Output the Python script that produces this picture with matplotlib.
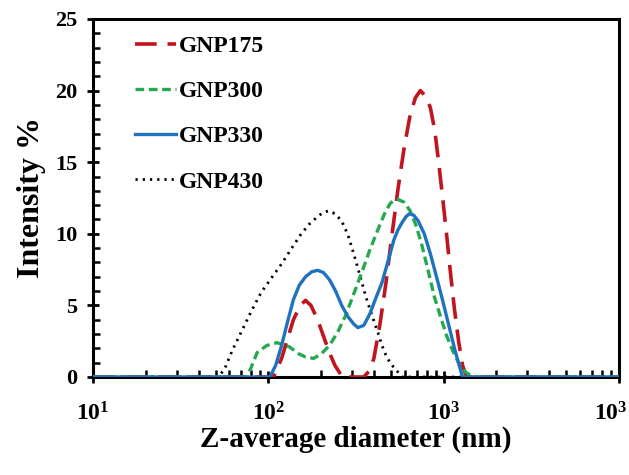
import numpy as np
import matplotlib
matplotlib.use('Agg')
import matplotlib.pyplot as plt
import matplotlib.transforms as mtransforms
from matplotlib.ticker import LogLocator, MultipleLocator, FixedLocator, FixedFormatter, NullFormatter

# ── data (diameter in nm, intensity in %) ──
d175 = [10, 107, 119, 139, 152, 163, 175, 191, 207, 223, 240, 255, 262, 350, 375, 400, 432, 469,
        508, 550, 595, 644, 690, 736, 790, 840, 890, 934, 985, 1038, 1095, 1153, 1220, 1282, 1352, 10000]
i175 = [0, 0, 1.3, 4.0, 5.0, 5.35, 5.0, 4.0, 2.8, 1.7, 0.8, 0.3, 0, 0, 0.4, 1.3, 3.6, 6.6,
        10.0, 13.2, 16.0, 18.3, 19.5, 20.0, 19.6, 18.8, 17.2, 15.1, 12.6, 10.0, 7.2, 4.7, 2.4, 0.8, 0, 0]

d300 = [10, 75.5, 80, 86.3, 98, 112, 132, 150, 163, 181, 200, 223, 248, 276, 307, 341, 380,
        422, 460, 494, 520, 550, 595, 644, 700, 755, 820, 885, 960, 1038, 1120, 1216, 1330, 1465, 10000]
i300 = [0, 0, 0.7, 1.7, 2.2, 2.4, 2.1, 1.6, 1.4, 1.3, 1.6, 2.2, 3.1, 4.3, 5.8, 7.3, 8.9,
        10.3, 11.4, 12.1, 12.35, 12.4, 12.2, 11.6, 10.5, 9.1, 7.3, 5.6, 4.2, 2.9, 1.9, 1.0, 0.35, 0, 0]

d330 = [10, 102, 110, 119, 129, 139, 150, 163, 177, 191, 206, 223, 242, 262, 285, 307, 324,
        350, 379, 410, 445, 482, 521, 550, 580, 610, 638, 675, 716, 775, 840, 910, 984, 1065, 1153, 1220, 1282, 10000]
i330 = [0, 0, 0.8, 2.2, 3.9, 5.4, 6.4, 7.0, 7.35, 7.45, 7.3, 6.8, 6.0, 5.0, 4.2, 3.7, 3.45,
        3.6, 4.4, 5.5, 6.6, 8.1, 9.6, 10.3, 10.8, 11.2, 11.4, 11.3, 10.9, 10.0, 8.6, 7.0, 5.4, 3.7, 2.0, 0.9, 0, 0]

d430 = [10, 52, 56.5, 62, 69.8, 80, 91, 104, 119, 136, 154, 172, 191, 206, 221, 240, 262,
        285, 307, 333, 360, 390, 422, 445, 469, 500, 536, 560, 580, 10000]
i430 = [0, 0, 0.6, 1.8, 3.1, 4.6, 5.9, 6.9, 7.9, 9.0, 10.0, 10.7, 11.2, 11.5, 11.6, 11.4, 10.9,
        9.9, 8.6, 7.1, 5.6, 4.3, 3.1, 2.2, 1.5, 0.9, 0.5, 0.2, 0, 0]

labels = ['GNP175', 'GNP300', 'GNP330', 'GNP430']
x_tick_vals = [10, 100, 1000, 10000]
x_tick_labels = [r'$\mathbf{10^{1}}$', r'$\mathbf{10^{2}}$', r'$\mathbf{10^{3}}$', r'$\mathbf{10^{3}}$']
y_ticks = [0, 5, 10, 15, 20, 25]

plt.rcParams.update({
    'font.family': 'serif',
    'font.serif': ['Liberation Serif', 'DejaVu Serif'],
    'mathtext.fontset': 'custom',
    'mathtext.rm': 'Liberation Serif',
    'mathtext.bf': 'Liberation Serif:bold',
    'font.weight': 'bold',
})

fig = plt.figure(figsize=(6.29, 4.75), dpi=100)
ax = fig.add_axes([93 / 629, 1 - 377 / 475, (619 - 93) / 629, (377 - 19) / 475])

ax.plot(d175, i175, color='#C0141E', lw=2.6, dashes=(6, 3), label=labels[0], zorder=3)
ax.plot(d300, i300, color='#25A84F', lw=2.4, dashes=(2.6, 1.4), label=labels[1], zorder=3)
ax.plot(d330, i330, color='#1F72BE', lw=2.4, label=labels[2], zorder=4)
ax.plot(d430, i430, color='black', lw=2.0, dashes=(0.8, 1.8), label=labels[3], zorder=2)

ax.set_xscale('log')
ax.set_xlim(10, 10000)
ax.set_ylim(0, 25)

ax.xaxis.set_major_locator(FixedLocator(x_tick_vals))
ax.xaxis.set_major_formatter(FixedFormatter(x_tick_labels))
ax.xaxis.set_minor_locator(LogLocator(base=10, subs=np.arange(2, 10)))
ax.xaxis.set_minor_formatter(NullFormatter())
ax.yaxis.set_major_locator(FixedLocator(y_ticks))
ax.yaxis.set_minor_locator(MultipleLocator(1))

ax.tick_params(which='major', direction='inout', length=9, width=2, pad=7)
ax.tick_params(axis='y', which='major', labelsize=16)
ax.tick_params(axis='x', which='major', labelsize=17, pad=14)
ax.tick_params(which='minor', direction='in', length=5, width=1.8)
for lbl in ax.get_xticklabels() + ax.get_yticklabels():
    lbl.set_fontweight('bold')

# the last label sits a bit left of the axis end in the reference
fig.canvas.draw()
last = ax.get_xticklabels()[-1]
last.set_transform(last.get_transform() + mtransforms.ScaledTranslation(-8 / 100, 0, fig.dpi_scale_trans))

for s in ax.spines.values():
    s.set_linewidth(2.2)
    s.set_color('black')

ax.set_xlabel('Z-average diameter (nm)', fontsize=21, fontweight='bold', labelpad=0)
ax.set_ylabel('Intensity %', fontsize=23, fontweight='bold', labelpad=6)

leg = ax.legend(loc='upper left', frameon=False, fontsize=17, handlelength=1.75,
                handletextpad=0.1, labelspacing=1.0, borderaxespad=0,
                bbox_to_anchor=(0.062, 0.98))
for t in leg.get_texts():
    t.set_fontweight('bold')

fig.savefig('out.png', dpi=100)
